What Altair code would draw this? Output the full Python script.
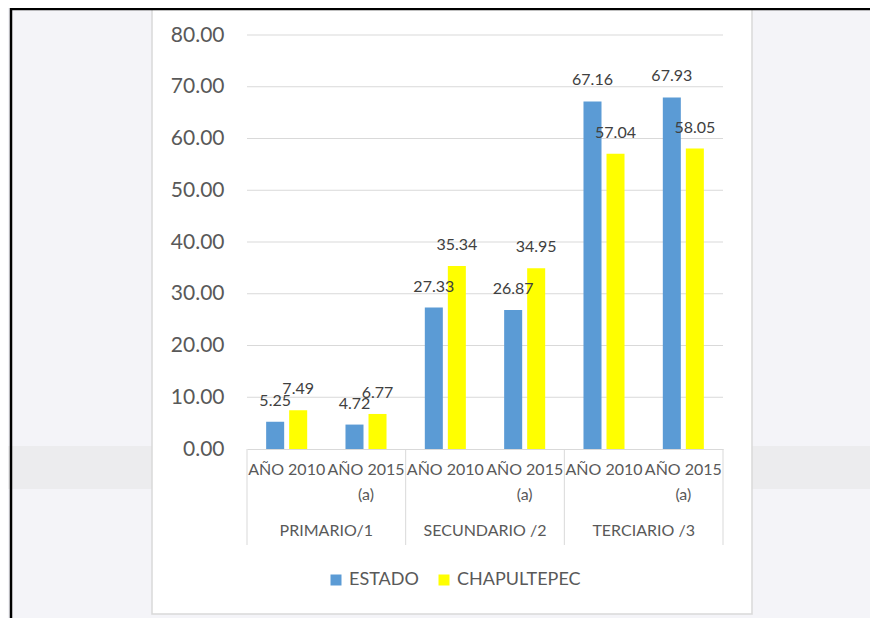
import altair as alt
import pandas as pd

# ---- data ----
sectors = ["PRIMARIO/1", "SECUNDARIO /2", "TERCIARIO /3"]
years = ["AÑO 2010", "AÑO 2015 (a)"]
series = ["ESTADO", "CHAPULTEPEC"]
estado = [5.25, 4.72, 27.33, 26.87, 67.16, 67.93]
chapultepec = [7.49, 6.77, 35.34, 34.95, 57.04, 58.05]
y_ticks = [0, 10, 20, 30, 40, 50, 60, 70, 80]
colors = ["#5B9BD5", "#FFFF00"]

cats = [f"{s}|{y}" for s in sectors for y in years]
rows = []
for i, c in enumerate(cats):
    rows.append({"cat": c, "serie": series[0], "valor": estado[i]})
    rows.append({"cat": c, "serie": series[1], "valor": chapultepec[i]})
df = pd.DataFrame(rows)

W, H = 476, 414
FONT = "Lato"
TXT = "#595959"
GRID = "#D9D9D9"

x_scale = alt.Scale(domain=cats, paddingInner=0, paddingOuter=0)
y_scale = alt.Scale(domain=[0, 80], nice=False)
off_scale = alt.Scale(domain=series, paddingInner=0.217, paddingOuter=0.832)
color_scale = alt.Scale(domain=series, range=colors)

label_expr = "split(replace(split(datum.label, '|')[1], ' (a)', '|(a)'), '|')"
x_axis = alt.Axis(title=None, labelExpr=label_expr, labelAngle=0, labelFont=FONT,
                  labelFontSize=16, labelColor=TXT, labelPadding=12, labelLineHeight=25,
                  labelOverlap=False, labelLimit=300, ticks=False, domain=True,
                  domainColor=GRID, domainWidth=1, grid=False, zindex=1)
y_axis = alt.Axis(title=None, values=y_ticks, format=".2f", labelFont=FONT,
                  labelFontSize=21, labelColor=TXT, labelPadding=23, ticks=False,
                  domain=False, grid=False, zindex=1)


def X(bp=None):
    if bp is None:
        return alt.X("cat:N", scale=x_scale, axis=x_axis, sort=cats)
    return alt.X("cat:N", scale=x_scale, axis=x_axis, sort=cats, bandPosition=bp)


Y = alt.Y("valor:Q", scale=y_scale, axis=y_axis)

# ---- decorations (page background elements) ----
one = alt.Chart(pd.DataFrame({"k": [0]}))
band = one.mark_rect(color="#ECECEE").encode(
    x=alt.value(-239), x2=alt.value(623), y=alt.value(411), y2=alt.value(454))
box = one.mark_rect(fill="white", stroke=GRID, strokeWidth=1.5).encode(
    x=alt.value(-95), x2=alt.value(505), y=alt.value(-30), y2=alt.value(579))
frame_left = one.mark_rule(color="black", strokeWidth=2.5).encode(
    x=alt.value(-236), y=alt.value(-27), y2=alt.value(600))
frame_top = one.mark_rule(color="black", strokeWidth=2.5).encode(
    x=alt.value(-236), x2=alt.value(623), y=alt.value(-26))

# ---- grid lines ----
grid = alt.Chart(pd.DataFrame({"valor": y_ticks[1:]})).mark_rule(
    color=GRID, strokeWidth=1).encode(y=Y, x=alt.value(0), x2=alt.value(W))

# ---- category separators below the axis ----
sep_df = pd.DataFrame({"cat": [f"{s}|{years[0]}" for s in sectors]})
seps = alt.Chart(sep_df).mark_rule(color=GRID, strokeWidth=1).encode(
    x=X(0), y=alt.value(H), y2=alt.value(H + 96))
sep_end = alt.Chart(pd.DataFrame({"cat": [cats[-1]]})).mark_rule(
    color=GRID, strokeWidth=1).encode(x=X(1), y=alt.value(H), y2=alt.value(H + 96))

sec_df = pd.DataFrame({"cat": [f"{s}|{years[1]}" for s in sectors], "sector": sectors})
sec_text = alt.Chart(sec_df).mark_text(
    font=FONT, fontSize=16, color=TXT, baseline="middle").encode(
    x=X(0), y=alt.value(496), text="sector:N")

# ---- bars & labels ----
legend = alt.Legend(title=None, orient="none", legendX=80, legendY=536,
                    direction="horizontal", symbolType="square", symbolSize=121,
                    symbolStrokeWidth=0, labelFont=FONT, labelFontSize=18,
                    labelColor=TXT, labelOffset=4, columnPadding=16, padding=0)

bars = alt.Chart(df).mark_bar().encode(
    x=X(),
    xOffset=alt.XOffset("serie:N", scale=off_scale, sort=series),
    y=Y,
    color=alt.Color("serie:N", scale=color_scale, sort=series, legend=legend),
)
labels = alt.Chart(df).mark_text(
    font=FONT, fontSize=16, color="#404040", baseline="middle", dy=-21).encode(
    x=X(),
    xOffset=alt.XOffset("serie:N", scale=off_scale, sort=series),
    y=Y,
    text=alt.Text("valor:Q", format=".2f"),
)

chart = alt.layer(band, box, frame_left, frame_top, grid, seps, sep_end, sec_text,
                  bars, labels).properties(
    width=W, height=H,
    padding={"left": 239, "top": 27, "right": 147, "bottom": 169},
    autosize=alt.AutoSizeParams(type="none"),
    background="#F4F4F8",
).configure_view(stroke=None)

chart.save("out.html", embed_options={"renderer": "svg", "actions": False})
